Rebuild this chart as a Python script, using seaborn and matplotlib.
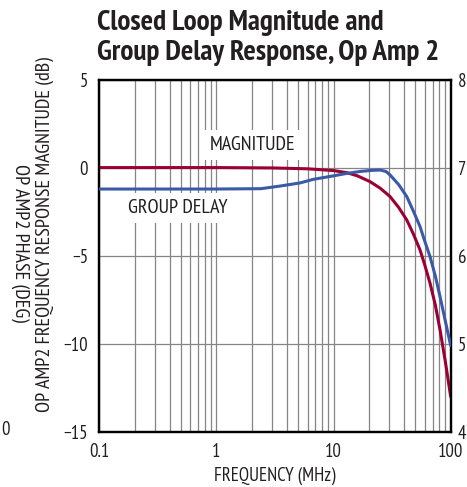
import numpy as np
import pandas as pd
import matplotlib
matplotlib.use("Agg")
import matplotlib.pyplot as plt
import seaborn as sns

sns.set_theme(style="white")
plt.rcParams['font.family'] = ['PT Sans Narrow', 'Archivo Narrow', 'Liberation Sans', 'DejaVu Sans']

# magnitude (dB), left axis
mag_freq = [0.1, 1, 3, 6, 10, 13, 16, 20.5, 25, 30.4, 36, 42.2, 48, 54.8, 60, 66.7, 74, 81.2, 90, 100]
mag_db = [0.02, 0.02, 0.0, -0.05, -0.15, -0.27, -0.45, -0.78, -1.15, -1.63, -2.25, -2.96,
          -3.75, -4.67, -5.5, -6.56, -7.8, -9.22, -11.0, -13.0]

# group delay, right axis
gd_freq = [0.1, 1, 2.4, 3.5, 5.2, 6.7, 10, 13, 17, 21, 25, 28, 30.4, 36, 42.2, 48, 54.8,
           60, 66.7, 74, 81.2, 90, 100]
gd_val = [6.76, 6.76, 6.764, 6.794, 6.83, 6.87, 6.91, 6.938, 6.96, 6.972, 6.976, 6.96, 6.92,
          6.81, 6.674, 6.51, 6.332, 6.17, 5.99, 5.77, 5.534, 5.26, 4.98]

left_ticks = [-15, -10, -5, 0, 5]
right_ticks = [4, 5, 6, 7, 8]
x_ticks = [0.1, 1, 10, 100]
x_ticklabels = ["0.1", "1", "10", "100"]

red = "#9b0035"
blue = "#3a5aa8"
ink = "#231f20"
fs = 13.5

fig = plt.figure(figsize=(4.67, 4.87), dpi=100)
ax = fig.add_axes([0.2126, 0.1136, 0.7524, 0.7221])
ax2 = ax.twinx()

df_mag = pd.DataFrame({"f": mag_freq, "v": mag_db})
df_gd = pd.DataFrame({"f": gd_freq, "v": gd_val})
sns.lineplot(data=df_mag, x="f", y="v", ax=ax, color=red, lw=2.2, zorder=5)
sns.lineplot(data=df_gd, x="f", y="v", ax=ax2, color=blue, lw=2.2, zorder=5)

ax.set_xscale("log")
ax.set_xlim(0.1, 100)
ax.set_ylim(-15, 5)
ax2.set_ylim(4, 8)
ax.set_xticks(x_ticks)
ax.set_xticklabels(x_ticklabels)
ax.set_yticks(left_ticks)
ax.set_yticklabels([str(t).replace("-", "\u2212") for t in left_ticks])
ax2.set_yticks(right_ticks)
ax2.set_yticklabels([str(t) for t in right_ticks])

ax.grid(True, which="both", axis="x", color="#858585", lw=0.9)
ax.grid(True, which="major", axis="y", color="#858585", lw=0.9)
ax.set_axisbelow(True)
ax.tick_params(which="both", length=0, labelsize=fs, colors=ink, pad=8)
ax2.tick_params(length=0, labelsize=fs, colors=ink, pad=5)
for a in (ax, ax2):
    for s in a.spines.values():
        s.set_color("black")
        s.set_linewidth(1.6)

ax.set_xlabel("FREQUENCY (MHz)", fontsize=fs, color=ink, labelpad=4)
ax.set_ylabel("")
ax2.set_ylabel("")

ax.text(2.05, 1.3, "MAGNITUDE", fontsize=14.5, color=ink, ha="center", va="center",
        bbox=dict(facecolor="white", edgecolor="none", pad=4), zorder=4)
ax.text(0.47, -2.28, "GROUP DELAY", fontsize=14.5, color=ink, ha="center", va="center",
        bbox=dict(facecolor="white", edgecolor="none", pad=4), zorder=4)

fig.text(0.208, 1 - 30 / 487, "Closed Loop Magnitude and", fontsize=21,
         fontweight="bold", color=ink, ha="left", va="baseline")
fig.text(0.208, 1 - 60 / 487, "Group Delay Response, Op Amp 2", fontsize=21,
         fontweight="bold", color=ink, ha="left", va="baseline")

fig.text(45 / 467, 1 - 235 / 487, "OP AMP2 FREQUENCY RESPONSE MAGNITUDE (dB)", rotation=90,
         fontsize=14.5, color=ink, ha="center", va="center")
fig.text(20 / 467, 1 - 243 / 487, "OP AMP2 PHASE (DEG)", rotation=270,
         fontsize=14.5, color=ink, ha="center", va="center")
fig.text(5 / 467, 1 - 430 / 487, "0", fontsize=fs, color=ink, ha="center", va="center")

fig.savefig("out.png", dpi=100)
